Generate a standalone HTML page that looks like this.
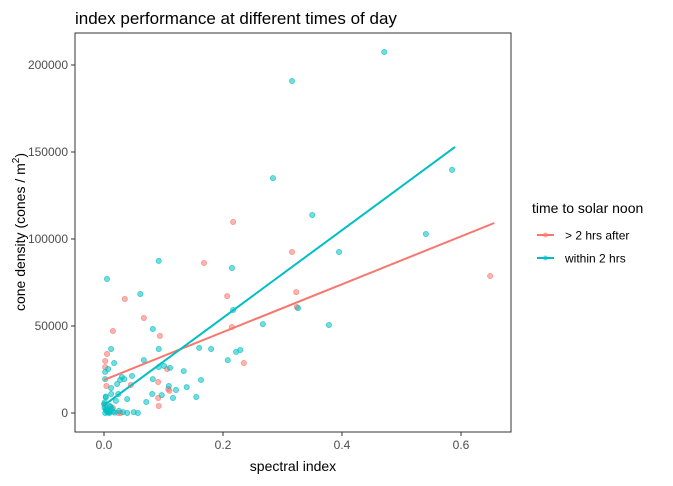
<!DOCTYPE html>
<html><head><meta charset="utf-8"><style>
body{margin:0;background:#fff;}
svg text{font-family:"Liberation Sans",Arial,sans-serif;}
</style></head><body>
<svg id="chart" width="673" height="481" xmlns="http://www.w3.org/2000/svg">
<rect width="673" height="481" fill="#fff"/>
<text x="75" y="24" font-size="17" fill="#000">index performance at different times of day</text>
<rect x="75" y="33" width="436" height="399" fill="none" stroke="#333" stroke-width="1"/>
<g id="pts"></g>
<g id="lines"></g>
<g id="axes"></g>
<text x="293" y="471" font-size="14" text-anchor="middle" fill="#000">spectral index</text>
<text transform="translate(25,232) rotate(-90)" font-size="14" text-anchor="middle" fill="#000">cone density (cones / m<tspan dy="-6" font-size="10">2</tspan><tspan dy="6">)</tspan></text>
<g>
<text x="532" y="213" font-size="14" fill="#000">time to solar noon</text>
<g>
<line x1="537" y1="235" x2="554" y2="235" stroke="#F8766D" stroke-width="2"/>
<circle cx="545.5" cy="235" r="2.5" fill="#F8766D" fill-opacity="0.6"/>
<text x="565" y="239.5" font-size="12" fill="#000">&gt; 2 hrs after</text></g>
<g>
<line x1="537" y1="258" x2="554" y2="258" stroke="#00BFC4" stroke-width="2"/>
<circle cx="545.5" cy="258" r="2.5" fill="#00BFC4" fill-opacity="0.6"/>
<text x="565" y="262.5" font-size="12" fill="#000">within 2 hrs</text></g>
</g>
</svg>
<script>
const xTicks=[0,0.2,0.4,0.6];
const xTickLabels=["0.0","0.2","0.4","0.6"];
const yTicks=[0,50000,100000,150000,200000];
const yTickLabels=["0","50000","100000","150000","200000"];
const afterX=[0.168,0.035,0.207,0.067,0.015,0.094,0.215,0.005,0.002,0.002,0.235,0.106,0.091,0.045,0.004,0.108,0.110,0.091,0.092,0.002,0.015,0.024,0.028,0.217,0.316,0.323,0.324,0.649];
const afterY=[86200,65500,67200,54600,47100,44300,49400,33900,29900,26400,28700,25300,17800,16100,15500,13800,12800,8600,4000,4600,2900,0,0,109800,92500,69500,60900,78700];
const withinX=[0.471,0.316,0.284,0.585,0.350,0.541,0.395,0.215,0.217,0.326,0.267,0.378,0.160,0.180,0.229,0.005,0.092,0.061,0.082,0.012,0.092,0.222,0.208,0.067,0.017,0.007,0.002,0.092,0.101,0.111,0.134,0.030,0.034,0.027,0.047,0.082,0.002,0.022,0.012,0.109,0.139,0.163,0.024,0.012,0.003,0.081,0.097,0.121,0.116,0.155,0.071,0.039,0.020,0.000,0.001,0.003,0.005,0.008,0.010,0.013,0.050,0.057,0.032,0.039,0.002,0.004,0.006,0.009,0.015,0.018,0.025,0.001,0.003,0.011];
const withinY=[207500,190800,135000,139700,113800,102900,92500,83300,59200,60300,51100,50600,37400,36800,36200,77000,87400,68400,48300,36800,36800,35100,30400,30400,28700,25300,23600,26400,27000,25900,24100,20700,19500,19000,21300,19500,19500,16700,14400,15500,14900,19000,10900,10900,9500,10900,10300,13200,8600,9200,6300,8000,7000,5000,3000,2000,1000,500,4000,2500,500,0,500,0,0,1500,300,0,800,200,1200,6000,9000,3500];
const fitRange=[[0,0.656],[0,0.59]];
const fitIntercept=[19000,4400];
const fitSlope=[137500,251700];
const colors=["#F8766D","#00BFC4"];
const NS="http://www.w3.org/2000/svg";
const sx=v=>104+v*595;
const sy=v=>413-v/50000*87;
function mk(t,a,p){const e=document.createElementNS(NS,t);for(const k in a)e.setAttribute(k,a[k]);p.appendChild(e);return e;}
const axes=document.getElementById('axes');
xTicks.forEach((t,i)=>{
  const l=mk('line',{x1:sx(t),x2:sx(t),y1:432,y2:436,stroke:'#333'},axes);
  
  
  const tx=mk('text',{x:sx(t),y:449,'font-size':12,'text-anchor':'middle',fill:'#4d4d4d'},axes);
  tx.textContent=xTickLabels[i];
  
  
});
yTicks.forEach((t,i)=>{
  const l=mk('line',{x1:71,x2:75,y1:sy(t),y2:sy(t),stroke:'#333'},axes);
  
  
  const tx=mk('text',{x:68,y:sy(t)+4,'font-size':12,'text-anchor':'end',fill:'#4d4d4d'},axes);
  tx.textContent=yTickLabels[i];
  
  
});
const pts=document.getElementById('pts');
[[afterX,afterY],[withinX,withinY]].forEach((s,g)=>{
  s[0].forEach((x,i)=>{
    const c=mk('circle',{cx:sx(x),cy:sy(s[1][i]),r:2.6,fill:colors[g],'fill-opacity':0.55,stroke:colors[g],'stroke-opacity':0.7,'stroke-width':0.8},pts);
    
    
  });
});
const lines=document.getElementById('lines');
[0,1].forEach(g=>{
  const [a,b]=fitRange[g];
  const l=mk('line',{x1:sx(a),y1:sy(fitIntercept[g]+fitSlope[g]*a),x2:sx(b),y2:sy(fitIntercept[g]+fitSlope[g]*b),stroke:colors[g],'stroke-width':2},lines);
  
  
});
</script>
</body></html>
